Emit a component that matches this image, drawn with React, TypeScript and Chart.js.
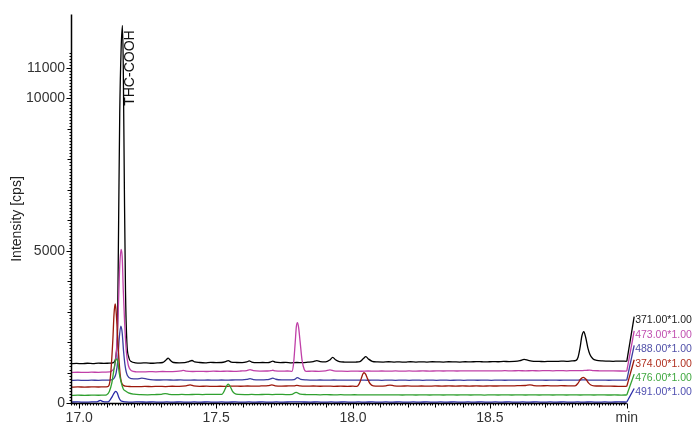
import { useEffect, useRef } from 'react';
import { Chart, registerables } from 'chart.js';

Chart.register(...registerables);

const X_MIN = 16.97;
const X_MAX = 19.03;
const X_AXIS_END = 19.0;
const LABEL_X = 19.027;
const Y_MAX = 12760;

const xTickValues = [17.0, 17.5, 18.0, 18.5, 19.0];
const xTickLabels = ['17.0', '17.5', '18.0', '18.5', 'min'];
const yTickValues = [0, 5000, 10000, 11000];
const yTickLabels = ['0', '5000', '10000', '11000'];

const seriesNames = ['371.00*1.00', '473.00*1.00', '488.00*1.00', '374.00*1.00', '476.00*1.00', '491.00*1.00'];
const seriesColors = ['#000000', '#c040a8', '#3c3ca0', '#9c180c', '#30a030', '#2a2aa8'];
const labelColors = ['#222222', '#c050b0', '#5050a8', '#b03020', '#40a840', '#5050b0'];
const labelLevels = [2837, 2365, 1893, 1420, 948, 476];

const peakName = 'THC-COOH';
const peakTime = 17.158;
const peakValue = 12400;

const trace371: [number, number][] = [
  [16.97, 1285], [16.99, 1300], [17.01, 1290], [17.03, 1305], [17.05, 1295], [17.07, 1310], [17.09, 1300], [17.11, 1310],
  [17.122, 1320], [17.13, 1380], [17.135, 1600], [17.14, 2500], [17.144, 6000], [17.148, 9500], [17.153, 11600],
  [17.158, 12400], [17.161, 11000], [17.165, 7000], [17.169, 3700], [17.174, 2000], [17.181, 1500], [17.19, 1360],
  [17.205, 1320], [17.225, 1310], [17.245, 1320], [17.265, 1305], [17.285, 1315], [17.305, 1330], [17.318, 1420],
  [17.325, 1475], [17.333, 1400], [17.345, 1330], [17.365, 1320], [17.385, 1325], [17.4, 1360], [17.412, 1395],
  [17.422, 1350], [17.44, 1330], [17.46, 1320], [17.48, 1335], [17.5, 1325], [17.52, 1330], [17.535, 1360],
  [17.544, 1390], [17.555, 1345], [17.575, 1330], [17.595, 1325], [17.612, 1350], [17.621, 1380], [17.63, 1345],
  [17.65, 1325], [17.67, 1330], [17.69, 1325], [17.7, 1350], [17.707, 1375], [17.716, 1340], [17.735, 1325],
  [17.755, 1335], [17.775, 1320], [17.795, 1330], [17.815, 1325], [17.835, 1340], [17.855, 1360], [17.868, 1390],
  [17.88, 1360], [17.9, 1350], [17.915, 1410], [17.926, 1500], [17.936, 1420], [17.95, 1360], [17.97, 1345],
  [17.99, 1340], [18.01, 1345], [18.025, 1360], [18.037, 1450], [18.047, 1520], [18.057, 1440], [18.07, 1370],
  [18.09, 1350], [18.11, 1345], [18.13, 1355], [18.15, 1345], [18.17, 1350], [18.19, 1340], [18.21, 1355],
  [18.23, 1345], [18.25, 1350], [18.27, 1345], [18.29, 1355], [18.31, 1350], [18.33, 1345], [18.35, 1355],
  [18.37, 1350], [18.39, 1345], [18.41, 1355], [18.43, 1350], [18.45, 1360], [18.47, 1355], [18.49, 1350],
  [18.51, 1360], [18.53, 1355], [18.55, 1365], [18.57, 1360], [18.59, 1365], [18.61, 1390], [18.625, 1430],
  [18.64, 1400], [18.66, 1370], [18.68, 1365], [18.7, 1360], [18.72, 1370], [18.74, 1365], [18.76, 1375],
  [18.78, 1370], [18.8, 1380], [18.815, 1400], [18.822, 1500], [18.829, 1800], [18.836, 2200], [18.843, 2340],
  [18.85, 2150], [18.858, 1800], [18.865, 1600], [18.876, 1450], [18.89, 1400], [18.91, 1380], [18.93, 1375],
  [18.95, 1370], [18.97, 1375], [19.0, 1370],
];

const trace473: [number, number][] = [
  [16.97, 1000], [16.995, 1010], [17.02, 1005], [17.045, 1012], [17.07, 1008], [17.095, 1015], [17.112, 1020],
  [17.122, 1080], [17.128, 1150], [17.135, 1600], [17.141, 2600], [17.145, 3700], [17.148, 4500], [17.153, 5040],
  [17.157, 4800], [17.161, 3700], [17.166, 2600], [17.172, 1700], [17.179, 1250], [17.191, 1060], [17.208, 1025],
  [17.23, 1020], [17.255, 1030], [17.28, 1025], [17.305, 1035], [17.33, 1030], [17.355, 1040], [17.372, 1055],
  [17.381, 1070], [17.392, 1045], [17.415, 1035], [17.44, 1040], [17.465, 1035], [17.49, 1045], [17.515, 1040],
  [17.54, 1045], [17.565, 1040], [17.59, 1050], [17.612, 1065], [17.624, 1095], [17.636, 1060], [17.66, 1045],
  [17.685, 1050], [17.7, 1060], [17.707, 1075], [17.716, 1055], [17.74, 1045], [17.76, 1050], [17.777, 1040],
  [17.783, 1300], [17.789, 2000], [17.793, 2500], [17.797, 2640], [17.801, 2500], [17.807, 2000], [17.814, 1400],
  [17.822, 1100], [17.829, 1040], [17.85, 1045], [17.875, 1040], [17.9, 1055], [17.916, 1085], [17.93, 1055],
  [17.955, 1045], [17.98, 1040], [18.005, 1048], [18.03, 1042], [18.055, 1050], [18.08, 1044], [18.105, 1050],
  [18.13, 1045], [18.155, 1052], [18.18, 1046], [18.205, 1052], [18.23, 1047], [18.255, 1054], [18.28, 1048],
  [18.305, 1055], [18.33, 1050], [18.355, 1056], [18.38, 1050], [18.405, 1057], [18.43, 1052], [18.455, 1058],
  [18.48, 1052], [18.505, 1058], [18.53, 1053], [18.555, 1060], [18.58, 1055], [18.605, 1062], [18.63, 1056],
  [18.655, 1062], [18.68, 1057], [18.705, 1063], [18.73, 1058], [18.755, 1062], [18.78, 1058], [18.805, 1064],
  [18.83, 1062], [18.852, 1072], [18.864, 1080], [18.878, 1065], [18.9, 1058], [18.925, 1055], [18.95, 1052],
  [18.975, 1050], [19.0, 1048],
];

const trace488: [number, number][] = [
  [16.97, 740], [16.995, 748], [17.02, 742], [17.045, 750], [17.07, 745], [17.095, 752], [17.118, 760],
  [17.128, 820], [17.135, 1000], [17.141, 1400], [17.146, 2100], [17.152, 2520], [17.157, 2300], [17.162, 1700],
  [17.168, 1200], [17.176, 900], [17.191, 800], [17.21, 790], [17.229, 815], [17.248, 785], [17.27, 762],
  [17.295, 755], [17.32, 760], [17.345, 752], [17.37, 758], [17.395, 750], [17.42, 756], [17.445, 750],
  [17.47, 755], [17.495, 750], [17.52, 756], [17.545, 752], [17.57, 758], [17.595, 760], [17.612, 775],
  [17.624, 800], [17.636, 770], [17.66, 758], [17.685, 765], [17.698, 790], [17.707, 815], [17.718, 780],
  [17.74, 760], [17.765, 758], [17.785, 770], [17.797, 830], [17.809, 775], [17.83, 758], [17.855, 752],
  [17.88, 756], [17.905, 750], [17.93, 755], [17.955, 748], [17.98, 754], [18.005, 748], [18.03, 753],
  [18.055, 747], [18.08, 752], [18.105, 746], [18.13, 752], [18.155, 746], [18.18, 751], [18.205, 745],
  [18.23, 751], [18.255, 746], [18.28, 752], [18.305, 746], [18.33, 751], [18.355, 745], [18.38, 750],
  [18.405, 746], [18.43, 752], [18.455, 747], [18.48, 752], [18.505, 746], [18.53, 751], [18.555, 747],
  [18.58, 752], [18.605, 748], [18.63, 753], [18.655, 748], [18.68, 752], [18.705, 747], [18.73, 751],
  [18.755, 747], [18.78, 752], [18.805, 748], [18.83, 756], [18.845, 762], [18.86, 754], [18.885, 748],
  [18.91, 752], [18.935, 747], [18.96, 751], [18.98, 748], [19.0, 750],
];

const trace374: [number, number][] = [
  [16.97, 520], [16.995, 528], [17.02, 522], [17.045, 530], [17.07, 525], [17.09, 532], [17.104, 540],
  [17.112, 700], [17.117, 1200], [17.123, 2100], [17.127, 2900], [17.131, 3250], [17.134, 3100], [17.139, 2400],
  [17.144, 1600], [17.15, 900], [17.157, 620], [17.168, 555], [17.19, 540], [17.215, 535], [17.24, 545],
  [17.265, 538], [17.29, 548], [17.315, 540], [17.34, 550], [17.365, 545], [17.39, 560], [17.405, 595],
  [17.418, 560], [17.44, 548], [17.465, 552], [17.49, 545], [17.515, 550], [17.54, 548], [17.565, 555],
  [17.59, 550], [17.615, 558], [17.64, 552], [17.665, 560], [17.69, 570], [17.704, 595], [17.716, 565],
  [17.74, 555], [17.765, 560], [17.785, 565], [17.795, 580], [17.806, 560], [17.83, 552], [17.855, 558],
  [17.88, 550], [17.905, 555], [17.93, 548], [17.955, 553], [17.98, 548], [18.0, 552], [18.014, 545],
  [18.022, 620], [18.03, 800], [18.036, 950], [18.04, 994], [18.046, 950], [18.053, 800], [18.062, 640],
  [18.074, 565], [18.095, 555], [18.12, 565], [18.135, 590], [18.15, 562], [18.175, 555], [18.2, 560],
  [18.225, 552], [18.25, 558], [18.275, 553], [18.3, 560], [18.325, 555], [18.35, 562], [18.375, 556],
  [18.4, 560], [18.425, 555], [18.45, 562], [18.475, 556], [18.5, 560], [18.525, 558], [18.55, 565],
  [18.575, 560], [18.6, 568], [18.63, 575], [18.646, 595], [18.66, 572], [18.685, 565], [18.71, 568],
  [18.735, 562], [18.76, 568], [18.785, 565], [18.811, 565], [18.822, 650], [18.831, 780], [18.841, 843],
  [18.851, 780], [18.86, 660], [18.869, 590], [18.88, 565], [18.905, 558], [18.93, 555], [18.955, 550],
  [18.98, 548], [19.0, 545],
];

const trace476: [number, number][] = [
  [16.97, 250], [16.995, 256], [17.02, 252], [17.045, 258], [17.07, 255], [17.09, 260], [17.1, 268],
  [17.11, 380], [17.119, 650], [17.126, 1050], [17.133, 1400], [17.137, 1450], [17.141, 1350], [17.146, 1000],
  [17.154, 650], [17.161, 460], [17.168, 400], [17.18, 330], [17.2, 290], [17.225, 275], [17.25, 270],
  [17.275, 278], [17.3, 285], [17.314, 310], [17.328, 285], [17.35, 275], [17.375, 280], [17.4, 276],
  [17.425, 282], [17.45, 278], [17.475, 284], [17.5, 280], [17.521, 285], [17.529, 380], [17.537, 540],
  [17.544, 617], [17.551, 550], [17.559, 400], [17.568, 310], [17.581, 280], [17.605, 275], [17.63, 280],
  [17.655, 276], [17.68, 282], [17.705, 278], [17.73, 283], [17.755, 278], [17.778, 285], [17.792, 350],
  [17.807, 290], [17.83, 278], [17.855, 275], [17.88, 270], [17.905, 274], [17.93, 268], [17.955, 272],
  [17.98, 266], [18.005, 271], [18.03, 265], [18.055, 270], [18.08, 264], [18.105, 269], [18.13, 264],
  [18.155, 268], [18.18, 263], [18.205, 268], [18.23, 263], [18.255, 267], [18.28, 262], [18.305, 267],
  [18.33, 262], [18.355, 266], [18.38, 262], [18.405, 267], [18.43, 262], [18.455, 266], [18.48, 261],
  [18.505, 266], [18.53, 262], [18.555, 267], [18.58, 262], [18.605, 266], [18.63, 262], [18.655, 267],
  [18.68, 263], [18.705, 267], [18.73, 262], [18.755, 266], [18.78, 262], [18.805, 267], [18.83, 263],
  [18.855, 267], [18.88, 262], [18.905, 266], [18.93, 262], [18.955, 265], [18.98, 261], [19.0, 263],
];

const trace491: [number, number][] = [
  [16.97, 30], [16.995, 35], [17.02, 28], [17.045, 34], [17.065, 40], [17.077, 85], [17.088, 42], [17.1, 35],
  [17.106, 40], [17.113, 100], [17.121, 220], [17.128, 330], [17.133, 380], [17.139, 330], [17.144, 200],
  [17.15, 95], [17.158, 50], [17.17, 38], [17.195, 32], [17.22, 36], [17.245, 30], [17.27, 35], [17.295, 29],
  [17.32, 34], [17.345, 30], [17.37, 35], [17.395, 29], [17.42, 34], [17.445, 30], [17.47, 35], [17.495, 29],
  [17.52, 34], [17.545, 30], [17.57, 35], [17.595, 29], [17.62, 34], [17.645, 30], [17.67, 35], [17.695, 29],
  [17.72, 34], [17.745, 30], [17.77, 35], [17.795, 38], [17.82, 33], [17.845, 30], [17.87, 35], [17.895, 29],
  [17.92, 34], [17.945, 30], [17.97, 35], [17.995, 29], [18.02, 34], [18.045, 30], [18.07, 35], [18.095, 29],
  [18.12, 34], [18.145, 30], [18.17, 35], [18.195, 29], [18.22, 34], [18.245, 30], [18.27, 35], [18.295, 29],
  [18.32, 34], [18.345, 30], [18.37, 35], [18.395, 29], [18.42, 34], [18.445, 30], [18.47, 35], [18.495, 29],
  [18.52, 34], [18.545, 30], [18.57, 35], [18.595, 29], [18.62, 34], [18.645, 30], [18.67, 35], [18.695, 29],
  [18.72, 34], [18.745, 30], [18.77, 35], [18.795, 29], [18.82, 34], [18.845, 30], [18.87, 35], [18.895, 29],
  [18.92, 34], [18.945, 30], [18.97, 35], [19.0, 32],
];

const seriesTraces = [trace371, trace473, trace488, trace374, trace476, trace491];

const FONT = '"Liberation Sans", Arial, Helvetica, sans-serif';

const decorPlugin = {
  id: 'decor',
  afterDraw(chart: any) {
    const { ctx, scales } = chart;
    const xs = scales.x;
    const ys = scales.y;
    const left = Math.round(xs.getPixelForValue(X_MIN)) + 0.5;
    const right = xs.getPixelForValue(X_AXIS_END);
    const bottom = Math.round(ys.getPixelForValue(0)) + 0.5;
    const top = ys.getPixelForValue(Y_MAX);
    ctx.save();
    ctx.strokeStyle = '#000';
    ctx.lineWidth = 1.5;
    ctx.beginPath();
    ctx.moveTo(left, top);
    ctx.lineTo(left, bottom);
    ctx.lineTo(right, bottom);
    ctx.stroke();
    ctx.lineWidth = 1;
    ctx.beginPath();
    for (let i = 0; i <= 115; i++) {
      const v = i * 100;
      const p = Math.round(ys.getPixelForValue(v)) + 0.5;
      const len = yTickValues.includes(v) ? 5 : i % 10 === 0 ? 4 : 2;
      ctx.moveTo(left - len, p);
      ctx.lineTo(left, p);
    }
    for (let i = -3; i <= 200; i++) {
      const v = 17 + i / 100;
      const p = Math.round(xs.getPixelForValue(v)) + 0.5;
      const len = i % 50 === 0 ? 5 : i % 10 === 0 ? 4 : 2;
      ctx.moveTo(p, bottom);
      ctx.lineTo(p, bottom + len);
    }
    ctx.stroke();

    // trace labels
    ctx.font = `10.5px ${FONT}`;
    ctx.textAlign = 'left';
    ctx.textBaseline = 'middle';
    const lx = xs.getPixelForValue(LABEL_X);
    seriesNames.forEach((name, i) => {
      const ly = ys.getPixelForValue(labelLevels[i]);
      ctx.fillStyle = labelColors[i];
      ctx.fillText(name, lx + 1, ly + 4);
    });

    // axis title
    ctx.save();
    ctx.translate(17, 219);
    ctx.rotate(-Math.PI / 2);
    ctx.font = `14px ${FONT}`;
    ctx.fillStyle = '#222';
    ctx.textAlign = 'center';
    ctx.textBaseline = 'middle';
    ctx.fillText('Intensity [cps]', 0, 0);
    ctx.restore();

    // peak annotation
    ctx.save();
    ctx.translate(xs.getPixelForValue(peakTime) + 8, ys.getPixelForValue(peakValue) + 5);
    ctx.rotate(-Math.PI / 2);
    ctx.font = `14px ${FONT}`;
    ctx.fillStyle = '#111';
    ctx.textAlign = 'right';
    ctx.textBaseline = 'middle';
    ctx.fillText(peakName, 0, 0);
    ctx.restore();

    ctx.restore();
  },
};

export default function App() {
  const canvasRef = useRef<HTMLCanvasElement | null>(null);

  useEffect(() => {
    document.body.style.margin = '0';
    const canvas = canvasRef.current;
    if (!canvas) return;

    const order = [5, 4, 3, 2, 1, 0];
    const datasets: any[] = [];
    order.forEach((i) => {
      datasets.push({
        label: seriesNames[i],
        data: seriesTraces[i].map(([x, y]) => ({ x, y })),
        borderColor: seriesColors[i],
        borderWidth: 1.3,
        pointRadius: 0,
        fill: false,
        cubicInterpolationMode: 'monotone',
        clip: false,
      });
    });
    order.forEach((i) => {
      const trace = seriesTraces[i];
      const last = trace[trace.length - 1];
      datasets.push({
        label: seriesNames[i] + ' connector',
        data: [
          { x: last[0], y: last[1] },
          { x: LABEL_X, y: labelLevels[i] },
        ],
        borderColor: seriesColors[i],
        borderWidth: 1.3,
        pointRadius: 0,
        fill: false,
        tension: 0,
        clip: false,
      });
    });

    const chart = new Chart(canvas, {
      type: 'line',
      data: { datasets },
      options: {
        animation: false,
        responsive: false,
        devicePixelRatio: window.devicePixelRatio || 1,
        layout: { padding: { top: 14, right: 61, left: 0, bottom: 0 } },
        plugins: {
          legend: { display: false },
          tooltip: { enabled: false },
        },
        scales: {
          x: {
            type: 'linear',
            min: X_MIN,
            max: X_MAX,
            grid: { display: false, drawTicks: false },
            border: { display: false },
            afterFit: (scale: any) => {
              scale.height = 20;
            },
            afterBuildTicks: (scale: any) => {
              scale.ticks = xTickValues.map((value) => ({ value }));
            },
            ticks: {
              autoSkip: false,
              maxRotation: 0,
              padding: 7,
              color: '#333',
              font: { family: FONT, size: 14 },
              callback: (value: any) => {
                const idx = xTickValues.indexOf(Number(value));
                return idx >= 0 ? xTickLabels[idx] : '';
              },
            },
          },
          y: {
            type: 'linear',
            min: 0,
            max: Y_MAX,
            grid: { display: false, drawTicks: false },
            border: { display: false },
            afterFit: (scale: any) => {
              scale.width = 71;
            },
            afterBuildTicks: (scale: any) => {
              scale.ticks = yTickValues.map((value) => ({ value }));
            },
            ticks: {
              autoSkip: false,
              padding: 6,
              color: '#333',
              font: { family: FONT, size: 14 },
              callback: (value: any) => {
                const idx = yTickValues.indexOf(Number(value));
                return idx >= 0 ? yTickLabels[idx] : '';
              },
            },
          },
        },
      },
      plugins: [decorPlugin],
    });

    return () => {
      chart.destroy();
    };
  }, []);

  return (
    <div style={{ position: 'absolute', left: 0, top: 0, width: 696, height: 423, background: '#fff' }}>
      <canvas ref={canvasRef} width={696} height={423} style={{ width: 696, height: 423 }} />
    </div>
  );
}
